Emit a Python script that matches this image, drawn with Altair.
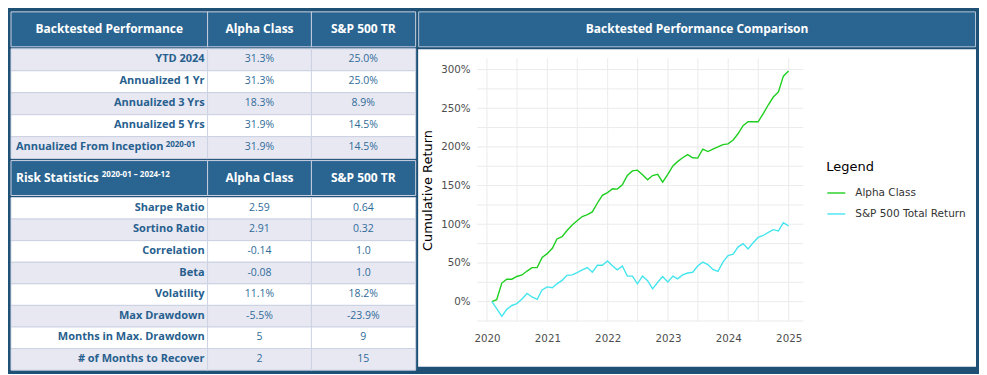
import calendar
import altair as alt
import pandas as pd

# ---------------- table content ----------------
perf_title = "Backtested Performance"
col_names = ["Alpha Class", "S&P 500 TR"]
perf_labels = ["YTD 2024", "Annualized 1 Yr", "Annualized 3 Yrs", "Annualized 5 Yrs",
               "Annualized From Inception"]
perf_sup = ["", "", "", "", "2020-01"]
perf_alpha = ["31.3%", "31.3%", "18.3%", "31.9%", "31.9%"]
perf_sp = ["25.0%", "25.0%", "8.9%", "14.5%", "14.5%"]

risk_title = "Risk Statistics"
risk_sup = "2020-01 – 2024-12"
risk_labels = ["Sharpe Ratio", "Sortino Ratio", "Correlation", "Beta", "Volatility",
               "Max Drawdown", "Months in Max. Drawdown", "# of Months to Recover"]
risk_sups = [""] * len(risk_labels)
risk_alpha = ["2.59", "2.91", "-0.14", "-0.08", "11.1%", "-5.5%", "5", "2"]
risk_sp = ["0.64", "0.32", "1.0", "1.0", "18.2%", "-23.9%", "9", "15"]

# ---------------- line chart content ----------------
chart_title = "Backtested Performance Comparison"
series_names = ["Alpha Class", "S&P 500 Total Return"]
months = [f"{y}-{m:02d}-{calendar.monthrange(y, m)[1]:02d}"
          for y in range(2020, 2025) for m in range(1, 13)]
alpha_cum = [0, 2.5, 24, 29, 29, 32.5, 34.5, 39.5, 44, 44, 57, 62, 69, 81, 84,
             92, 99, 104.5, 110, 112.5, 116, 127.5, 137.5, 141, 146, 145.5, 151, 163, 169, 170,
             164, 157.5, 163, 164.5, 154.5, 164.5, 175.5, 181, 186, 190, 186, 185.5, 197, 194, 197,
             200, 203, 204, 209, 217, 227.5, 232.5, 232.5, 232.5, 243, 254.5, 264.5, 271, 291.5, 298]
sp_cum = [0, -9, -19, -10, -5, -2.5, 3.5, 10.5, 6, 3, 15, 19, 18, 23, 27.5,
          34, 34.5, 37.5, 41, 44, 38, 47, 47, 52.5, 46, 41, 46, 33, 33, 23,
          33, 27, 16.5, 25, 32.5, 25.5, 33, 29.5, 34.5, 37, 38, 46, 51, 48, 41.5,
          39, 51, 59.5, 61.5, 70.5, 75, 68, 76, 83, 85.5, 89.5, 93, 91.5, 102, 98]
y_label_values = [0, 0.5, 1.0, 1.5, 2.0, 2.5, 3.0]
y_grid_values = [-0.25, 0, 0.25, 0.5, 0.75, 1.0, 1.25, 1.5, 1.75, 2.0, 2.25, 2.5, 2.75, 3.0]
x_grid_dates = ["2020-01-01", "2020-07-01", "2021-01-01", "2021-07-01", "2022-01-01",
                "2022-07-01", "2023-01-01", "2023-07-01", "2024-01-01", "2024-07-01",
                "2025-01-01"]
x_label_years = [2020, 2021, 2022, 2023, 2024, 2025]

# ---------------- styles ----------------
NAVY = "#1f5076"
HDR = "#2a6592"
LAV = "#e8e8f3"
BORDER = "#ccd2e2"
LABEL = "#27608e"
VALC = "#2f6b98"
GREEN = "#1fcf1f"
CYAN = "#45e5ee"
GRID = "#ebebeb"
FONT = "Open Sans"
SANS = "DejaVu Sans"

W1, W2, W3 = 197, 104, 104
HDR_H = 35
ROW1_H = 110
ROW2_H = 173
PW, PH = 327, 264
LM, RM, TM, BM = 59, 173, 9, 45   # white panel margins around the plot area

CELL = dict(xOffset=0.5, x2Offset=-0.5, yOffset=0.5, y2Offset=-0.5, stroke=BORDER, strokeWidth=1)


def band_y():
    return alt.Y("row:O", axis=None, scale=alt.Scale(paddingInner=0, paddingOuter=0))


def header_cell(text, width, align="center", sup="", sup_dx=0, sup_dy=-3):
    df = pd.DataFrame({"row": [0], "text": [text], "sup": [sup]})
    base = alt.Chart(df).properties(width=width, height=HDR_H)
    rect = base.mark_rect(fill=HDR, **CELL).encode(y=band_y())
    xpos = width / 2 if align == "center" else 5
    txt = base.mark_text(font=FONT, fontWeight="bold", fontSize=12, color="white",
                         align=align, baseline="middle").encode(
        y=band_y(), x=alt.value(xpos), text="text:N")
    layers = [rect, txt]
    if sup:
        layers.append(base.mark_text(font=FONT, fontWeight="bold", fontSize=8, color="white",
                                     align="left", baseline="middle", dx=sup_dx, dy=sup_dy).encode(
            y=band_y(), x=alt.value(xpos), text="sup:N"))
    return alt.layer(*layers)


def body_col(texts, sups, width, height, is_label, lav_parity):
    df = pd.DataFrame({"row": list(range(len(texts))), "text": texts, "sup": sups})
    base = alt.Chart(df).properties(width=width, height=height)
    rect = base.mark_rect(**CELL).encode(
        y=band_y(),
        fill=alt.condition(f"datum.row % 2 == {lav_parity}", alt.value(LAV), alt.value("white")))
    layers = [rect]
    if is_label:
        layers.append(base.transform_filter("datum.sup == ''").mark_text(
            font=FONT, fontWeight="bold", fontSize=11, color=LABEL, align="right",
            baseline="middle").encode(y=band_y(), x=alt.value(width - 3), text="text:N"))
        layers.append(base.transform_filter("datum.sup != ''").mark_text(
            font=FONT, fontWeight="bold", fontSize=11, color=LABEL, align="left",
            baseline="middle").encode(y=band_y(), x=alt.value(5), text="text:N"))
        layers.append(base.transform_filter("datum.sup != ''").mark_text(
            font=FONT, fontWeight="bold", fontSize=8, color=LABEL, align="left",
            baseline="middle", dx=150, dy=-2).encode(y=band_y(), x=alt.value(5), text="sup:N"))
    else:
        layers.append(base.mark_text(font=FONT, fontSize=10.5, color=VALC, align="center",
                                     baseline="middle").encode(
            y=band_y(), x=alt.value(width / 2), text="text:N"))
    return alt.layer(*layers)


row_a = alt.hconcat(header_cell(perf_title, W1), header_cell(col_names[0], W2),
                    header_cell(col_names[1], W3), spacing=0, bounds="flush")
row_b = alt.hconcat(body_col(perf_labels, perf_sup, W1, ROW1_H, True, 0),
                    body_col(perf_alpha, [""] * 5, W2, ROW1_H, False, 0),
                    body_col(perf_sp, [""] * 5, W3, ROW1_H, False, 0),
                    spacing=0, bounds="flush")
row_c = alt.hconcat(header_cell(risk_title, W1, align="left", sup=risk_sup, sup_dx=86),
                    header_cell(col_names[0], W2), header_cell(col_names[1], W3),
                    spacing=0, bounds="flush")
row_d = alt.hconcat(body_col(risk_labels, risk_sups, W1, ROW2_H, True, 1),
                    body_col(risk_alpha, risk_sups, W2, ROW2_H, False, 1),
                    body_col(risk_sp, risk_sups, W3, ROW2_H, False, 1),
                    spacing=0, bounds="flush")
table = alt.vconcat(row_a, row_b, row_c, row_d, spacing=-2)

# ---------------- right panel header (same origin/width as the plot) ----------------
hdr_df = pd.DataFrame({"row": [0], "text": [chart_title]})
hdr_base = alt.Chart(hdr_df).properties(width=PW, height=HDR_H)
right_header = alt.layer(
    hdr_base.mark_rect(fill=HDR, stroke="#b4c6d8", strokeWidth=1, yOffset=0.5,
                       y2Offset=-0.5).encode(
        y=band_y(), x=alt.value(-LM + 0.5), x2=alt.value(PW + RM - 0.5)),
    hdr_base.mark_text(font=FONT, fontWeight="bold", fontSize=12, color="white",
                       align="center", baseline="middle").encode(
        y=band_y(), x=alt.value((PW + RM - LM) / 2), text="text:N"),
)

# ---------------- line chart ----------------
long_df = pd.DataFrame({
    "date": months * 2,
    "value": [v / 100 for v in alpha_cum] + [v / 100 for v in sp_cum],
    "series": [series_names[0]] * len(months) + [series_names[1]] * len(months),
})

x_scale = alt.Scale(type="utc", domain=[alt.DateTime(year=2019, month=11, date=2, utc=True),
                                        alt.DateTime(year=2025, month=3, date=31, utc=True)])
y_scale = alt.Scale(domain=[-0.26, 3.146], nice=False, zero=False)

x_axis = alt.Axis(
    values=[alt.DateTime(year=y, month=1, date=1, utc=True) for y in x_label_years],
    labelExpr="utcFormat(datum.value, '%Y')", title=None, grid=False, domain=False,
    ticks=False, labelPadding=12, labelFont=SANS, labelFontSize=10.3,
    labelColor="#4d4d4d", zindex=1)
y_axis = alt.Axis(
    values=y_label_values, format=".0%", title="Cumulative Return", grid=False,
    domain=False, ticks=False, labelPadding=7, titlePadding=6, labelFont=SANS,
    labelFontSize=10.3, labelColor="#4d4d4d", titleFont=SANS, titleFontSize=13,
    titleFontWeight="normal", titleColor="#000000", zindex=1)

bg = alt.Chart(alt.Data(values=[{}])).mark_rect(fill="white").encode(
    x=alt.value(-LM), x2=alt.value(PW + RM), y=alt.value(-TM), y2=alt.value(PH + BM))
ygrid = alt.Chart(pd.DataFrame({"v": y_grid_values})).mark_rule(
    color=GRID, strokeWidth=1).encode(y=alt.Y("v:Q", scale=y_scale, axis=y_axis))
xgrid = alt.Chart(pd.DataFrame({"d": x_grid_dates})).mark_rule(
    color=GRID, strokeWidth=1).encode(x=alt.X("d:T", scale=x_scale, axis=x_axis))

lines = alt.Chart(long_df).mark_line(strokeWidth=1.4, clip=True).encode(
    x=alt.X("date:T", scale=x_scale, axis=x_axis),
    y=alt.Y("value:Q", scale=y_scale, axis=y_axis),
    color=alt.Color("series:N", scale=alt.Scale(domain=series_names, range=[GREEN, CYAN]),
                    legend=alt.Legend(title="Legend", orient="none", legendX=350, legendY=103,
                                      padding=0, titleFont=SANS, titleFontSize=13,
                                      titleFontWeight="normal", titleColor="#000000",
                                      titlePadding=9, labelFont=SANS, labelFontSize=10.5,
                                      labelColor="#333333", symbolType="stroke",
                                      symbolSize=324, symbolStrokeWidth=1.4, labelOffset=9,
                                      rowPadding=5)),
)

line_chart = alt.layer(bg, ygrid, xgrid, lines).properties(width=PW, height=PH)

right = alt.vconcat(right_header, line_chart, spacing=0).resolve_scale(
    color="independent").resolve_legend(color="independent")

chart = alt.hconcat(table, right, spacing=0).resolve_scale(
    color="independent").resolve_legend(color="independent").properties(
    padding=2).configure(background=NAVY).configure_view(stroke="transparent")

chart.save("out.html", embed_options={"renderer": "svg", "actions": False})
